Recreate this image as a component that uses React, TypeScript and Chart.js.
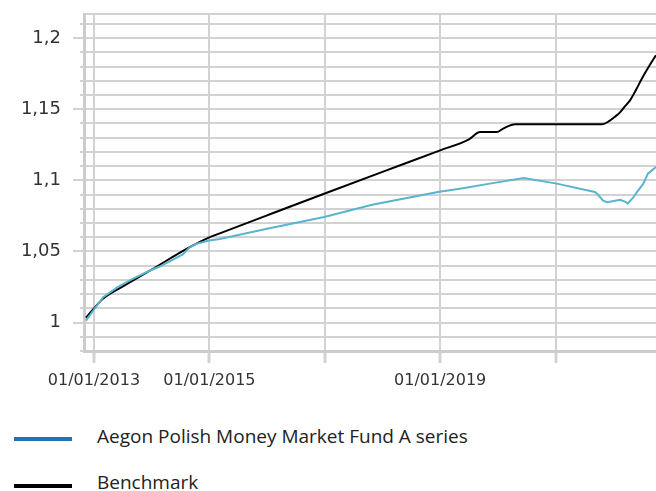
import React, { useEffect, useRef } from 'react';
import { Chart, registerables } from 'chart.js';

Chart.register(...registerables);

// Fund series (decimal years, value)
const fundYears = [2012.86, 2013.0, 2013.16, 2013.39, 2013.62, 2013.97, 2014.14, 2014.54, 2014.66, 2014.78, 2015.0, 2015.18, 2016.0, 2016.99, 2017.82, 2018.96, 2019.34, 2019.86, 2020.45, 2021.02, 2021.68, 2021.72, 2021.82, 2021.89, 2022.12, 2022.22, 2022.25, 2022.35, 2022.41, 2022.52, 2022.6, 2022.74];
const fundValues = [1.0014, 1.0092, 1.0178, 1.0244, 1.0296, 1.0366, 1.0394, 1.0479, 1.053, 1.0554, 1.0577, 1.0588, 1.066, 1.0742, 1.0829, 1.0918, 1.0941, 1.0977, 1.1016, 1.0977, 1.0918, 1.0906, 1.0859, 1.0847, 1.0864, 1.0847, 1.0836, 1.0882, 1.0918, 1.0977, 1.1047, 1.1094];

// Benchmark series
const benchYears = [2012.86, 2013.0, 2013.16, 2013.5, 2014.0, 2014.66, 2015.0, 2015.18, 2016.0, 2017.0, 2018.0, 2019.0, 2019.5, 2019.69, 2019.98, 2020.1, 2020.3, 2021.0, 2021.8, 2021.94, 2022.03, 2022.12, 2022.2, 2022.29, 2022.39, 2022.51, 2022.63, 2022.74];
const benchValues = [1.0035, 1.0099, 1.0169, 1.0254, 1.0373, 1.053, 1.0599, 1.0627, 1.0754, 1.0908, 1.106, 1.1211, 1.1289, 1.134, 1.134, 1.1366, 1.1394, 1.1394, 1.1394, 1.142, 1.1448, 1.148, 1.152, 1.1563, 1.1634, 1.1727, 1.181, 1.188];

// Axis ticks
const xTickYears = [2013, 2015, 2017, 2019, 2021];
const xLabeledYears = [2013, 2015, 2019];
const yMajorTicks = [1, 1.05, 1.1, 1.15, 1.2];
const yMinorTicks = [0.98, 0.99, 1, 1.01, 1.02, 1.03, 1.04, 1.05, 1.06, 1.07, 1.08, 1.09, 1.1, 1.11, 1.12, 1.13, 1.14, 1.15, 1.16, 1.17, 1.18, 1.19, 1.2, 1.21];
const Y_MIN = 0.98;
const Y_MAX = 1.217;
const X_MIN = 2012.827;
const X_MAX = 2022.74;

const seriesNames = ['Aegon Polish Money Market Fund A series', 'Benchmark'];

const GRID = '#d2d2d2';
const isMajor = (v: number) => yMajorTicks.some((m) => Math.abs(m - v) < 1e-6);

export default function App() {
  const ref = useRef<HTMLCanvasElement>(null);

  useEffect(() => {
    const tickPlugin = {
      id: 'yTickMarks',
      afterDraw(chart: any) {
        const ys = chart.scales.y;
        const ctx = chart.ctx;
        const left = chart.chartArea.left;
        ctx.save();
        ctx.strokeStyle = GRID;
        ctx.lineWidth = 2;
        ys.ticks.forEach((t: any) => {
          if (t.value > Y_MAX - 0.001) return;
          const py = Math.round(ys.getPixelForValue(t.value));
          const len = isMajor(t.value) ? 11 : 4;
          ctx.beginPath();
          ctx.moveTo(left - len, py);
          ctx.lineTo(left, py);
          ctx.stroke();
        });
        ctx.restore();
      },
    };

    const chart = new Chart(ref.current as HTMLCanvasElement, {
      type: 'line',
      data: {
        datasets: [
          {
            label: seriesNames[0],
            data: fundYears.map((x, i) => ({ x, y: fundValues[i] })),
            borderColor: '#5ab4cf',
            borderWidth: 2,
            pointRadius: 0,
            tension: 0,
          },
          {
            label: seriesNames[1],
            data: benchYears.map((x, i) => ({ x, y: benchValues[i] })),
            borderColor: '#000000',
            borderWidth: 2,
            pointRadius: 0,
            cubicInterpolationMode: 'monotone',
          },
        ],
      },
      options: {
        animation: false,
        responsive: false,
        maintainAspectRatio: false,
        layout: { padding: { top: 14, right: 0, left: 0, bottom: 0 } },
        plugins: { legend: { display: false }, tooltip: { enabled: false } },
        scales: {
          x: {
            type: 'linear',
            min: X_MIN,
            max: X_MAX,
            afterBuildTicks: (s: any) => {
              s.ticks = xTickYears.map((v) => ({ value: v }));
            },
            afterFit: (s: any) => {
              s.height = 49;
            },
            grid: { color: GRID, lineWidth: 2, tickLength: 12, tickColor: GRID, tickWidth: 3 },
            border: { display: true, color: '#cccccc', width: 3 },
            ticks: {
              autoSkip: false,
              maxRotation: 0,
              padding: 8,
              color: '#333333',
              font: { family: 'DejaVu Sans', size: 16 },
              callback: (v: any) => (xLabeledYears.includes(Number(v)) ? '01/01/' + v : ''),
            },
          },
          y: {
            type: 'linear',
            min: Y_MIN,
            max: Y_MAX,
            afterBuildTicks: (s: any) => {
              s.ticks = yMinorTicks.concat([Y_MAX]).map((v) => ({ value: v }));
            },
            afterFit: (s: any) => {
              s.width = 84;
              s.paddingTop = 0;
              s.paddingBottom = 0;
            },
            grid: { color: GRID, lineWidth: 2, drawTicks: false },
            border: { display: true, color: '#cccccc', width: 3 },
            ticks: {
              autoSkip: false,
              padding: 23,
              color: '#333333',
              font: { family: 'DejaVu Sans', size: 18 },
              callback: (v: any) => (isMajor(Number(v)) ? String(Math.round(Number(v) * 100) / 100).replace('.', ',') : ''),
            },
          },
        },
      },
      plugins: [tickPlugin],
    } as any);
    return () => chart.destroy();
  }, []);

  const legendText: React.CSSProperties = {
    position: 'absolute',
    left: 97,
    fontFamily: '"Open Sans", sans-serif',
    fontSize: 19,
    color: '#222222',
    lineHeight: '24px',
    whiteSpace: 'nowrap',
  };

  return (
    <div style={{ position: 'absolute', left: 0, top: 0, width: 656, height: 491, background: '#ffffff', overflow: 'hidden' }}>
      <canvas ref={ref} width={656} height={400} style={{ position: 'absolute', left: 0, top: 0, width: 656, height: 400 }} />
      <div style={{ position: 'absolute', left: 14, top: 437, width: 58, height: 4, background: '#1a75bc' }} />
      <div style={{ ...legendText, top: 424 }}>{seriesNames[0]}</div>
      <div style={{ position: 'absolute', left: 14, top: 484, width: 58, height: 4, background: '#000000' }} />
      <div style={{ ...legendText, top: 470 }}>{seriesNames[1]}</div>
    </div>
  );
}
